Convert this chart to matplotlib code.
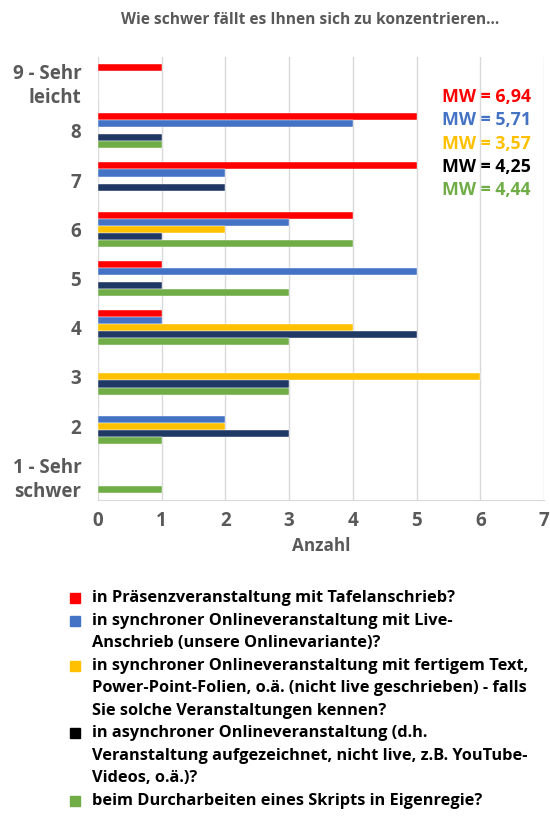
import matplotlib.pyplot as plt
import numpy as np
from matplotlib.patches import Rectangle

plt.rcParams['font.family'] = ['Open Sans', 'DejaVu Sans']

categories = ['1 - Sehr\nschwer', '2', '3', '4', '5', '6', '7', '8', '9 - Sehr\nleicht']
# counts per category (1..9), one list per series
praesenz = [0, 0, 0, 1, 1, 4, 5, 5, 1]
sync_live = [0, 2, 0, 1, 5, 3, 2, 4, 0]
sync_fertig = [0, 2, 6, 4, 0, 2, 0, 0, 0]
asynchron = [0, 3, 3, 5, 1, 1, 2, 1, 0]
skript = [1, 1, 3, 3, 3, 4, 0, 1, 0]

series = [praesenz, sync_live, sync_fertig, asynchron, skript]
colors = ['#FF0000', '#4472C4', '#FFC000', '#203864', '#70AD47']
legend_colors = ['#FF0000', '#4472C4', '#FFC000', '#000000', '#70AD47']
mw_labels = ['MW = 6,94', 'MW = 5,71', 'MW = 3,57', 'MW = 4,25', 'MW = 4,44']
mw_colors = ['#FF0000', '#4472C4', '#FFC000', '#000000', '#70AD47']
legend_labels = [
    'in Präsenzveranstaltung mit Tafelanschrieb?',
    'in synchroner Onlineveranstaltung mit Live-\nAnschrieb (unsere Onlinevariante)?',
    'in synchroner Onlineveranstaltung mit fertigem Text,\nPower-Point-Folien, o.ä. (nicht live geschrieben) - falls\nSie solche Veranstaltungen kennen?',
    'in asynchroner Onlineveranstaltung (d.h.\nVeranstaltung aufgezeichnet, nicht live, z.B. YouTube-\nVideos, o.ä.)?',
    'beim Durcharbeiten eines Skripts in Eigenregie?',
]

grey = '#595959'
fig = plt.figure(figsize=(5.5, 8.21), dpi=100)
ax = fig.add_axes([98/550, 1 - 500/821, (544-98)/550, (500-57)/821])

y = np.arange(len(categories))
h = 0.143
for i, vals in enumerate(series):
    ax.barh(y + (2 - i) * h, vals, height=h, color=colors[i],
            edgecolor='white', linewidth=0.3, zorder=3)

ax.set_xlim(0, 7)
ax.set_ylim(-0.5, len(categories) - 0.5)
ax.set_yticks(y)
ax.set_yticklabels(categories, fontsize=13.5, fontweight='bold', color=grey,
                   linespacing=1.25)
ax.set_xticks(range(8))
ax.tick_params(axis='x', labelsize=13.5, colors=grey, length=0, pad=8)
ax.tick_params(axis='y', length=0, pad=12)
for lab in ax.get_xticklabels():
    lab.set_fontweight('bold')
ax.grid(axis='x', color='#D9D9D9', linewidth=1, zorder=0)
for s in ['top', 'right', 'left']:
    ax.spines[s].set_visible(False)
ax.spines['bottom'].set_color('#D9D9D9')
ax.set_xlabel('Anzahl', fontsize=12.3, fontweight='bold', color=grey, labelpad=4)

fig.text(310/550, 1 - 20/821, 'Wie schwer fällt es Ihnen sich zu konzentrieren...',
         ha='center', va='center', fontsize=11.2, fontweight='bold', color=grey)

for i, (t, c) in enumerate(zip(mw_labels, mw_colors)):
    fig.text(531/550, 1 - (97 + i * 23.3)/821, t, ha='right', va='center',
             fontsize=12.8, fontweight='bold', color=c)

line_h = 22.5
ypos = 598
for lab, c in zip(legend_labels, legend_colors):
    fig.patches.append(Rectangle((70/550, 1 - (ypos + 5)/821), 10/550, 10/821,
                                 transform=fig.transFigure, color=c))
    for k, line in enumerate(lab.split('\n')):
        fig.text(92/550, 1 - (ypos + k * line_h)/821, line, ha='left', va='center',
                 fontsize=11.8, fontweight='bold', color='black')
    ypos += line_h * len(lab.split('\n'))

fig.savefig('out.png', dpi=100)
